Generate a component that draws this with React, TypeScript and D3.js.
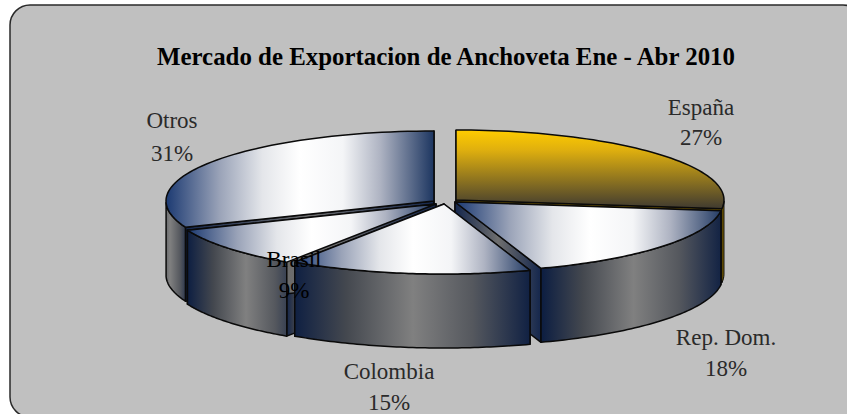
import React from "react";
import * as d3 from "d3";

const WIDTH = 847;
const HEIGHT = 414;

const titleText = "Mercado de Exportacion de Anchoveta Ene - Abr 2010";
const categories = ["España", "Rep. Dom.", "Colombia", "Brasil", "Otros"];
const shares = [27.0, 17.8, 14.6, 9.5, 31.1];
const shownPercents = ["27%", "18%", "15%", "9%", "31%"];

const RX = 268;
const RY = 70;
const DEPTH = 74;

const apexX = [456, 455, 444, 436, 434];
const apexY = [200, 202, 204, 204, 201];
const labelX = [701, 726, 389, 294, 172];
const labelY = [115, 345, 379, 267, 128];
const percentY = [145, 376, 410, 298, 161];
const drawOrder = [4, 0, 3, 1, 2];

const pieGen = d3.pie<number>().sort(null).value((d) => d);
const arcs = pieGen(shares);

function rimPath(a0: number, a1: number, cx: number, cy: number) {
  const pts = d3.range(0, 61).map((i) => {
    const a = a0 + ((a1 - a0) * i) / 60;
    return [cx + RX * Math.sin(a), cy - RY * Math.cos(a)] as [number, number];
  });
  return pts;
}

const line = d3.line();

function Slice({ i }: { i: number }) {
  const arc = arcs[i];
  const cx = apexX[i];
  const cy = apexY[i];
  const rim = rimPath(arc.startAngle, arc.endAngle, cx, cy);
  const top = line([[cx, cy], ...rim])! + "Z";
  const first = rim[0];
  const last = rim[rim.length - 1];
  const yellow = i === 0;
  const stroke = "#0a0a0a";
  const walls: React.ReactElement[] = [];
  const sideFill = yellow ? "#8a6c00" : `url(#wall${i})`;
  const cutFill = yellow ? "#8a6c00" : i === 3 ? "url(#cutBrasil)" : "url(#cut)";
  const sw = yellow ? 1 : 1.5;
  const facePoly = (p: [number, number], k: string) => (
    <path
      key={k}
      d={line([[cx, cy], p, [p[0], p[1] + DEPTH], [cx, cy + DEPTH]])! + "Z"}
      fill={cutFill}
      stroke={stroke}
      strokeWidth={sw}
      strokeLinejoin="round"
    />
  );
  walls.push(facePoly(first, "a"), facePoly(last, "b"));
  const front = rim.filter((_, idx) => {
    const a = arc.startAngle + ((arc.endAngle - arc.startAngle) * idx) / 60;
    return Math.cos(a) <= 0.0;
  });
  if (front.length > 1) {
    const lower = [...front].reverse().map((p) => [p[0], p[1] + DEPTH] as [number, number]);
    walls.push(
      <path
        key="w"
        d={line([...front, ...lower])! + "Z"}
        fill={sideFill}
        stroke={stroke}
        strokeWidth={sw}
        strokeLinejoin="round"
      />
    );
  }
  return (
    <g>
      {walls}
      <path d={top} fill={yellow ? "url(#gold)" : `url(#top${i})`} stroke={stroke} strokeWidth={1.5} strokeLinejoin="round" />
    </g>
  );
}

const topStops = [
  [0, "#1c3a72"],
  [0.2, "#9aa3b8"],
  [0.36, "#e4e6ea"],
  [0.5, "#ffffff"],
  [0.66, "#f4f5f7"],
  [0.8, "#aeb3c2"],
  [1, "#1c3560"],
];
const wallStops = [
  [0, "#0e1f42"],
  [0.22, "#44484f"],
  [0.5, "#808080"],
  [0.75, "#55585e"],
  [1, "#0e1f42"],
];
const wallRange: Record<number, [number, number]> = {
  1: [543, 724],
  2: [294, 532],
  3: [188, 304],
  4: [150, 190],
};
const topRange: Record<number, [number, number]> = {
  1: [456, 724],
  2: [294, 532],
  3: [188, 435],
  4: [166, 434],
};

export default function App() {
  return (
    <svg
      width={WIDTH}
      height={HEIGHT}
      viewBox={`0 0 ${WIDTH} ${HEIGHT}`}
      style={{ position: "absolute", left: 0, top: 0, display: "block" }}
    >
      <defs>
        <linearGradient id="gold" x1="0" x2="0" y1="0" y2="1">
          <stop offset="0" stopColor="#ffcc00" />
          <stop offset="0.25" stopColor="#e0b00e" />
          <stop offset="1" stopColor="#3f3a30" />
        </linearGradient>
        <linearGradient id="cut" x1="0" x2="1" y1="0" y2="0">
          <stop offset="0" stopColor="#14264c" />
          <stop offset="0.5" stopColor="#6e6e6e" />
          <stop offset="1" stopColor="#14264c" />
        </linearGradient>
        <linearGradient id="cutBrasil" x1="0" x2="1" y1="0" y2="0">
          <stop offset="0" stopColor="#14264c" />
          <stop offset="0.05" stopColor="#3a3f4a" />
          <stop offset="0.15" stopColor="#6e6e6e" />
          <stop offset="0.6" stopColor="#6a6a6a" />
          <stop offset="1" stopColor="#14264c" />
        </linearGradient>
        {[1, 2, 3, 4].map((i) => (
          <linearGradient key={i} id={`top${i}`} gradientUnits="userSpaceOnUse" x1={topRange[i][0]} x2={topRange[i][1]} y1={0} y2={0}>
            {topStops.map(([o, c]) => (
              <stop key={String(o)} offset={o as number} stopColor={c as string} />
            ))}
          </linearGradient>
        ))}
        {[1, 2, 3, 4].map((i) => (
          <linearGradient key={i} id={`wall${i}`} gradientUnits="userSpaceOnUse" x1={wallRange[i][0]} x2={wallRange[i][1]} y1={0} y2={0}>
            {wallStops.map(([o, c]) => (
              <stop key={String(o)} offset={o as number} stopColor={c as string} />
            ))}
          </linearGradient>
        ))}
      </defs>
      <rect x={10} y={5} width={853} height={412} rx={20} ry={20} fill="#c0c0c0" stroke="#2a2a2a" strokeWidth={1.5} />
      {drawOrder.map((i) => (
        <Slice key={i} i={i} />
      ))}
      <text x={446} y={65} textAnchor="middle" fontFamily="'Liberation Serif', serif" fontWeight="bold" fontSize={24.5} textLength={578} lengthAdjust="spacingAndGlyphs" fill="#000">
        {titleText}
      </text>
      {categories.map((c, i) => (
        <g key={c} fontFamily="'Liberation Serif', serif" fontSize={23} fill={i === 3 ? "#000" : "#2a2a2a"} textAnchor="middle">
          <text x={labelX[i]} y={labelY[i]}>{c}</text>
          <text x={labelX[i]} y={percentY[i]}>{shownPercents[i]}</text>
        </g>
      ))}
    </svg>
  );
}
